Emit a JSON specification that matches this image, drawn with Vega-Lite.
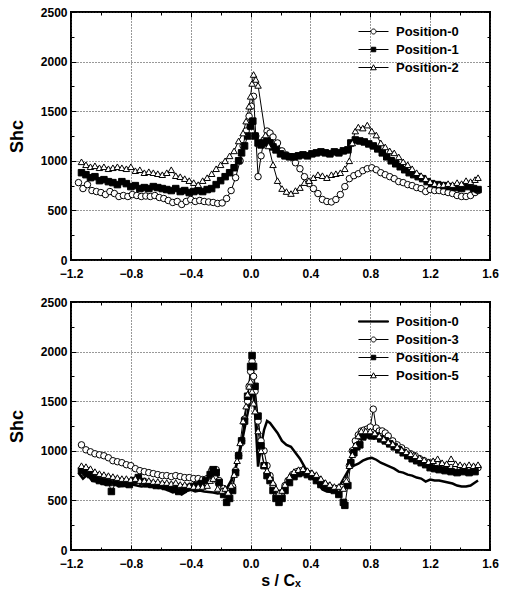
{
"$schema": "https://vega.github.io/schema/vega-lite/v6.json",
"padding": {"left": 7, "top": 5, "right": 5, "bottom": 5},
"spacing": 13,
"config": {
  "font": "Liberation Sans",
  "view": {"stroke": "black", "strokeWidth": 2},
  "axis": {"labelFont": "Liberation Sans", "labelFontWeight": "bold", "labelFontSize": 12, "labelColor": "black", "tickColor": "black", "tickWidth": 1, "titleFont": "Liberation Sans", "titleFontWeight": "bold", "titleColor": "black", "domain": false, "labelFlush": false, "labelOverlap": false, "labelBound": false},
  "legend": {"title": null, "orient": "none", "legendX": 296, "legendY": 13, "padding": 0, "labelFont": "Liberation Sans", "labelFontSize": 13, "labelFontWeight": "bold", "labelColor": "black", "labelOffset": 16, "rowPadding": 4, "symbolStrokeWidth": 1}
},
"datasets": {
"top": [
{"s":-1.15,"v":780,"p":"Position-0"},{"s":-1.12,"v":720,"p":"Position-0"},{"s":-1.09,"v":760,"p":"Position-0"},{"s":-1.06,"v":700,"p":"Position-0"},{"s":-1.03,"v":690,"p":"Position-0"},{"s":-1.0,"v":680,"p":"Position-0"},{"s":-0.97,"v":660,"p":"Position-0"},{"s":-0.94,"v":690,"p":"Position-0"},{"s":-0.91,"v":670,"p":"Position-0"},{"s":-0.88,"v":640,"p":"Position-0"},{"s":-0.85,"v":650,"p":"Position-0"},{"s":-0.82,"v":640,"p":"Position-0"},{"s":-0.79,"v":660,"p":"Position-0"},{"s":-0.76,"v":650,"p":"Position-0"},{"s":-0.73,"v":640,"p":"Position-0"},{"s":-0.7,"v":645,"p":"Position-0"},{"s":-0.67,"v":640,"p":"Position-0"},{"s":-0.64,"v":650,"p":"Position-0"},{"s":-0.61,"v":630,"p":"Position-0"},{"s":-0.58,"v":620,"p":"Position-0"},{"s":-0.55,"v":600,"p":"Position-0"},{"s":-0.52,"v":580,"p":"Position-0"},{"s":-0.49,"v":590,"p":"Position-0"},{"s":-0.46,"v":560,"p":"Position-0"},{"s":-0.43,"v":590,"p":"Position-0"},{"s":-0.4,"v":610,"p":"Position-0"},{"s":-0.37,"v":590,"p":"Position-0"},{"s":-0.34,"v":600,"p":"Position-0"},{"s":-0.31,"v":590,"p":"Position-0"},{"s":-0.28,"v":585,"p":"Position-0"},{"s":-0.25,"v":580,"p":"Position-0"},{"s":-0.22,"v":570,"p":"Position-0"},{"s":-0.19,"v":575,"p":"Position-0"},{"s":-0.16,"v":620,"p":"Position-0"},{"s":-0.13,"v":700,"p":"Position-0"},{"s":-0.1,"v":830,"p":"Position-0"},{"s":-0.07,"v":1000,"p":"Position-0"},{"s":-0.05,"v":1150,"p":"Position-0"},{"s":-0.03,"v":1300,"p":"Position-0"},{"s":-0.01,"v":1450,"p":"Position-0"},{"s":0.005,"v":1550,"p":"Position-0"},{"s":0.02,"v":1650,"p":"Position-0"},{"s":0.035,"v":1250,"p":"Position-0"},{"s":0.05,"v":840,"p":"Position-0"},{"s":0.07,"v":1050,"p":"Position-0"},{"s":0.09,"v":1210,"p":"Position-0"},{"s":0.11,"v":1300,"p":"Position-0"},{"s":0.13,"v":1280,"p":"Position-0"},{"s":0.15,"v":1240,"p":"Position-0"},{"s":0.18,"v":1180,"p":"Position-0"},{"s":0.21,"v":1100,"p":"Position-0"},{"s":0.24,"v":1060,"p":"Position-0"},{"s":0.27,"v":1040,"p":"Position-0"},{"s":0.3,"v":980,"p":"Position-0"},{"s":0.33,"v":920,"p":"Position-0"},{"s":0.36,"v":840,"p":"Position-0"},{"s":0.39,"v":770,"p":"Position-0"},{"s":0.42,"v":720,"p":"Position-0"},{"s":0.45,"v":670,"p":"Position-0"},{"s":0.48,"v":610,"p":"Position-0"},{"s":0.51,"v":590,"p":"Position-0"},{"s":0.54,"v":585,"p":"Position-0"},{"s":0.57,"v":610,"p":"Position-0"},{"s":0.6,"v":660,"p":"Position-0"},{"s":0.63,"v":740,"p":"Position-0"},{"s":0.66,"v":820,"p":"Position-0"},{"s":0.69,"v":850,"p":"Position-0"},{"s":0.72,"v":870,"p":"Position-0"},{"s":0.75,"v":900,"p":"Position-0"},{"s":0.78,"v":920,"p":"Position-0"},{"s":0.81,"v":930,"p":"Position-0"},{"s":0.84,"v":910,"p":"Position-0"},{"s":0.87,"v":880,"p":"Position-0"},{"s":0.9,"v":860,"p":"Position-0"},{"s":0.93,"v":840,"p":"Position-0"},{"s":0.96,"v":820,"p":"Position-0"},{"s":0.99,"v":790,"p":"Position-0"},{"s":1.02,"v":780,"p":"Position-0"},{"s":1.05,"v":760,"p":"Position-0"},{"s":1.08,"v":750,"p":"Position-0"},{"s":1.11,"v":730,"p":"Position-0"},{"s":1.14,"v":720,"p":"Position-0"},{"s":1.17,"v":690,"p":"Position-0"},{"s":1.2,"v":710,"p":"Position-0"},{"s":1.23,"v":700,"p":"Position-0"},{"s":1.26,"v":700,"p":"Position-0"},{"s":1.29,"v":690,"p":"Position-0"},{"s":1.32,"v":680,"p":"Position-0"},{"s":1.35,"v":670,"p":"Position-0"},{"s":1.38,"v":650,"p":"Position-0"},{"s":1.41,"v":640,"p":"Position-0"},{"s":1.44,"v":640,"p":"Position-0"},{"s":1.47,"v":650,"p":"Position-0"},{"s":1.5,"v":680,"p":"Position-0"},{"s":1.52,"v":700,"p":"Position-0"},
{"s":-1.13,"v":880,"p":"Position-1"},{"s":-1.1,"v":860,"p":"Position-1"},{"s":-1.07,"v":830,"p":"Position-1"},{"s":-1.04,"v":840,"p":"Position-1"},{"s":-1.01,"v":800,"p":"Position-1"},{"s":-0.98,"v":810,"p":"Position-1"},{"s":-0.95,"v":790,"p":"Position-1"},{"s":-0.92,"v":780,"p":"Position-1"},{"s":-0.89,"v":760,"p":"Position-1"},{"s":-0.86,"v":790,"p":"Position-1"},{"s":-0.83,"v":770,"p":"Position-1"},{"s":-0.8,"v":740,"p":"Position-1"},{"s":-0.77,"v":750,"p":"Position-1"},{"s":-0.74,"v":720,"p":"Position-1"},{"s":-0.71,"v":730,"p":"Position-1"},{"s":-0.68,"v":720,"p":"Position-1"},{"s":-0.65,"v":740,"p":"Position-1"},{"s":-0.62,"v":730,"p":"Position-1"},{"s":-0.59,"v":720,"p":"Position-1"},{"s":-0.56,"v":710,"p":"Position-1"},{"s":-0.53,"v":700,"p":"Position-1"},{"s":-0.5,"v":720,"p":"Position-1"},{"s":-0.47,"v":690,"p":"Position-1"},{"s":-0.44,"v":700,"p":"Position-1"},{"s":-0.41,"v":680,"p":"Position-1"},{"s":-0.38,"v":690,"p":"Position-1"},{"s":-0.35,"v":700,"p":"Position-1"},{"s":-0.32,"v":690,"p":"Position-1"},{"s":-0.29,"v":710,"p":"Position-1"},{"s":-0.26,"v":720,"p":"Position-1"},{"s":-0.23,"v":760,"p":"Position-1"},{"s":-0.2,"v":800,"p":"Position-1"},{"s":-0.17,"v":840,"p":"Position-1"},{"s":-0.14,"v":880,"p":"Position-1"},{"s":-0.11,"v":930,"p":"Position-1"},{"s":-0.08,"v":1000,"p":"Position-1"},{"s":-0.06,"v":1080,"p":"Position-1"},{"s":-0.04,"v":1150,"p":"Position-1"},{"s":-0.02,"v":1250,"p":"Position-1"},{"s":0.0,"v":1350,"p":"Position-1"},{"s":0.015,"v":1400,"p":"Position-1"},{"s":0.03,"v":1250,"p":"Position-1"},{"s":0.05,"v":1180,"p":"Position-1"},{"s":0.07,"v":1160,"p":"Position-1"},{"s":0.09,"v":1180,"p":"Position-1"},{"s":0.11,"v":1200,"p":"Position-1"},{"s":0.13,"v":1180,"p":"Position-1"},{"s":0.15,"v":1140,"p":"Position-1"},{"s":0.17,"v":1110,"p":"Position-1"},{"s":0.2,"v":1070,"p":"Position-1"},{"s":0.23,"v":1050,"p":"Position-1"},{"s":0.26,"v":1040,"p":"Position-1"},{"s":0.29,"v":1040,"p":"Position-1"},{"s":0.32,"v":1050,"p":"Position-1"},{"s":0.35,"v":1060,"p":"Position-1"},{"s":0.38,"v":1050,"p":"Position-1"},{"s":0.41,"v":1070,"p":"Position-1"},{"s":0.44,"v":1080,"p":"Position-1"},{"s":0.47,"v":1090,"p":"Position-1"},{"s":0.5,"v":1080,"p":"Position-1"},{"s":0.53,"v":1070,"p":"Position-1"},{"s":0.56,"v":1090,"p":"Position-1"},{"s":0.59,"v":1080,"p":"Position-1"},{"s":0.62,"v":1100,"p":"Position-1"},{"s":0.65,"v":1110,"p":"Position-1"},{"s":0.67,"v":1180,"p":"Position-1"},{"s":0.7,"v":1210,"p":"Position-1"},{"s":0.73,"v":1200,"p":"Position-1"},{"s":0.76,"v":1190,"p":"Position-1"},{"s":0.79,"v":1170,"p":"Position-1"},{"s":0.82,"v":1150,"p":"Position-1"},{"s":0.85,"v":1120,"p":"Position-1"},{"s":0.88,"v":1080,"p":"Position-1"},{"s":0.91,"v":1040,"p":"Position-1"},{"s":0.94,"v":1000,"p":"Position-1"},{"s":0.97,"v":970,"p":"Position-1"},{"s":1.0,"v":940,"p":"Position-1"},{"s":1.03,"v":910,"p":"Position-1"},{"s":1.06,"v":880,"p":"Position-1"},{"s":1.09,"v":860,"p":"Position-1"},{"s":1.12,"v":840,"p":"Position-1"},{"s":1.15,"v":820,"p":"Position-1"},{"s":1.18,"v":790,"p":"Position-1"},{"s":1.21,"v":770,"p":"Position-1"},{"s":1.25,"v":760,"p":"Position-1"},{"s":1.29,"v":750,"p":"Position-1"},{"s":1.33,"v":740,"p":"Position-1"},{"s":1.37,"v":730,"p":"Position-1"},{"s":1.41,"v":720,"p":"Position-1"},{"s":1.45,"v":740,"p":"Position-1"},{"s":1.49,"v":720,"p":"Position-1"},{"s":1.52,"v":710,"p":"Position-1"},
{"s":-1.13,"v":990,"p":"Position-2"},{"s":-1.1,"v":960,"p":"Position-2"},{"s":-1.07,"v":940,"p":"Position-2"},{"s":-1.04,"v":950,"p":"Position-2"},{"s":-1.01,"v":930,"p":"Position-2"},{"s":-0.98,"v":940,"p":"Position-2"},{"s":-0.95,"v":920,"p":"Position-2"},{"s":-0.92,"v":930,"p":"Position-2"},{"s":-0.89,"v":940,"p":"Position-2"},{"s":-0.86,"v":930,"p":"Position-2"},{"s":-0.83,"v":920,"p":"Position-2"},{"s":-0.8,"v":940,"p":"Position-2"},{"s":-0.77,"v":900,"p":"Position-2"},{"s":-0.74,"v":910,"p":"Position-2"},{"s":-0.71,"v":880,"p":"Position-2"},{"s":-0.68,"v":890,"p":"Position-2"},{"s":-0.65,"v":880,"p":"Position-2"},{"s":-0.62,"v":870,"p":"Position-2"},{"s":-0.59,"v":860,"p":"Position-2"},{"s":-0.56,"v":880,"p":"Position-2"},{"s":-0.53,"v":910,"p":"Position-2"},{"s":-0.5,"v":850,"p":"Position-2"},{"s":-0.47,"v":840,"p":"Position-2"},{"s":-0.44,"v":820,"p":"Position-2"},{"s":-0.41,"v":800,"p":"Position-2"},{"s":-0.38,"v":780,"p":"Position-2"},{"s":-0.35,"v":760,"p":"Position-2"},{"s":-0.32,"v":800,"p":"Position-2"},{"s":-0.29,"v":830,"p":"Position-2"},{"s":-0.26,"v":870,"p":"Position-2"},{"s":-0.23,"v":920,"p":"Position-2"},{"s":-0.2,"v":960,"p":"Position-2"},{"s":-0.17,"v":1000,"p":"Position-2"},{"s":-0.14,"v":1050,"p":"Position-2"},{"s":-0.11,"v":1100,"p":"Position-2"},{"s":-0.08,"v":1200,"p":"Position-2"},{"s":-0.05,"v":1280,"p":"Position-2"},{"s":-0.03,"v":1400,"p":"Position-2"},{"s":-0.01,"v":1550,"p":"Position-2"},{"s":0.0,"v":1650,"p":"Position-2"},{"s":0.01,"v":1780,"p":"Position-2"},{"s":0.02,"v":1870,"p":"Position-2"},{"s":0.035,"v":1820,"p":"Position-2"},{"s":0.05,"v":1760,"p":"Position-2"},{"s":0.1,"v":1260,"p":"Position-2"},{"s":0.12,"v":1150,"p":"Position-2"},{"s":0.15,"v":960,"p":"Position-2"},{"s":0.18,"v":800,"p":"Position-2"},{"s":0.21,"v":720,"p":"Position-2"},{"s":0.24,"v":690,"p":"Position-2"},{"s":0.27,"v":670,"p":"Position-2"},{"s":0.3,"v":700,"p":"Position-2"},{"s":0.33,"v":730,"p":"Position-2"},{"s":0.36,"v":780,"p":"Position-2"},{"s":0.39,"v":800,"p":"Position-2"},{"s":0.42,"v":830,"p":"Position-2"},{"s":0.45,"v":860,"p":"Position-2"},{"s":0.48,"v":850,"p":"Position-2"},{"s":0.51,"v":830,"p":"Position-2"},{"s":0.54,"v":860,"p":"Position-2"},{"s":0.57,"v":870,"p":"Position-2"},{"s":0.6,"v":880,"p":"Position-2"},{"s":0.63,"v":920,"p":"Position-2"},{"s":0.66,"v":1000,"p":"Position-2"},{"s":0.68,"v":1180,"p":"Position-2"},{"s":0.7,"v":1300,"p":"Position-2"},{"s":0.72,"v":1340,"p":"Position-2"},{"s":0.75,"v":1330,"p":"Position-2"},{"s":0.78,"v":1360,"p":"Position-2"},{"s":0.81,"v":1300,"p":"Position-2"},{"s":0.84,"v":1260,"p":"Position-2"},{"s":0.87,"v":1180,"p":"Position-2"},{"s":0.9,"v":1140,"p":"Position-2"},{"s":0.93,"v":1100,"p":"Position-2"},{"s":0.96,"v":1080,"p":"Position-2"},{"s":0.99,"v":1040,"p":"Position-2"},{"s":1.02,"v":990,"p":"Position-2"},{"s":1.05,"v":960,"p":"Position-2"},{"s":1.08,"v":920,"p":"Position-2"},{"s":1.11,"v":880,"p":"Position-2"},{"s":1.14,"v":850,"p":"Position-2"},{"s":1.17,"v":820,"p":"Position-2"},{"s":1.2,"v":790,"p":"Position-2"},{"s":1.23,"v":770,"p":"Position-2"},{"s":1.26,"v":760,"p":"Position-2"},{"s":1.29,"v":760,"p":"Position-2"},{"s":1.32,"v":770,"p":"Position-2"},{"s":1.35,"v":760,"p":"Position-2"},{"s":1.38,"v":780,"p":"Position-2"},{"s":1.41,"v":770,"p":"Position-2"},{"s":1.44,"v":800,"p":"Position-2"},{"s":1.47,"v":790,"p":"Position-2"},{"s":1.5,"v":810,"p":"Position-2"},{"s":1.52,"v":830,"p":"Position-2"}
],
"bot": [
{"s":-1.15,"v":780,"p":"Position-0"},{"s":-1.12,"v":720,"p":"Position-0"},{"s":-1.09,"v":760,"p":"Position-0"},{"s":-1.06,"v":700,"p":"Position-0"},{"s":-1.03,"v":690,"p":"Position-0"},{"s":-1.0,"v":680,"p":"Position-0"},{"s":-0.97,"v":660,"p":"Position-0"},{"s":-0.94,"v":690,"p":"Position-0"},{"s":-0.91,"v":670,"p":"Position-0"},{"s":-0.88,"v":640,"p":"Position-0"},{"s":-0.85,"v":650,"p":"Position-0"},{"s":-0.82,"v":640,"p":"Position-0"},{"s":-0.79,"v":660,"p":"Position-0"},{"s":-0.76,"v":650,"p":"Position-0"},{"s":-0.73,"v":640,"p":"Position-0"},{"s":-0.7,"v":645,"p":"Position-0"},{"s":-0.67,"v":640,"p":"Position-0"},{"s":-0.64,"v":650,"p":"Position-0"},{"s":-0.61,"v":630,"p":"Position-0"},{"s":-0.58,"v":620,"p":"Position-0"},{"s":-0.55,"v":600,"p":"Position-0"},{"s":-0.52,"v":580,"p":"Position-0"},{"s":-0.49,"v":590,"p":"Position-0"},{"s":-0.46,"v":560,"p":"Position-0"},{"s":-0.43,"v":590,"p":"Position-0"},{"s":-0.4,"v":610,"p":"Position-0"},{"s":-0.37,"v":590,"p":"Position-0"},{"s":-0.34,"v":600,"p":"Position-0"},{"s":-0.31,"v":590,"p":"Position-0"},{"s":-0.28,"v":585,"p":"Position-0"},{"s":-0.25,"v":580,"p":"Position-0"},{"s":-0.22,"v":570,"p":"Position-0"},{"s":-0.19,"v":575,"p":"Position-0"},{"s":-0.16,"v":620,"p":"Position-0"},{"s":-0.13,"v":700,"p":"Position-0"},{"s":-0.1,"v":830,"p":"Position-0"},{"s":-0.07,"v":1000,"p":"Position-0"},{"s":-0.05,"v":1150,"p":"Position-0"},{"s":-0.03,"v":1300,"p":"Position-0"},{"s":-0.01,"v":1450,"p":"Position-0"},{"s":0.005,"v":1550,"p":"Position-0"},{"s":0.02,"v":1650,"p":"Position-0"},{"s":0.035,"v":1250,"p":"Position-0"},{"s":0.05,"v":840,"p":"Position-0"},{"s":0.07,"v":1050,"p":"Position-0"},{"s":0.09,"v":1210,"p":"Position-0"},{"s":0.11,"v":1300,"p":"Position-0"},{"s":0.13,"v":1280,"p":"Position-0"},{"s":0.15,"v":1240,"p":"Position-0"},{"s":0.18,"v":1180,"p":"Position-0"},{"s":0.21,"v":1100,"p":"Position-0"},{"s":0.24,"v":1060,"p":"Position-0"},{"s":0.27,"v":1040,"p":"Position-0"},{"s":0.3,"v":980,"p":"Position-0"},{"s":0.33,"v":920,"p":"Position-0"},{"s":0.36,"v":840,"p":"Position-0"},{"s":0.39,"v":770,"p":"Position-0"},{"s":0.42,"v":720,"p":"Position-0"},{"s":0.45,"v":670,"p":"Position-0"},{"s":0.48,"v":610,"p":"Position-0"},{"s":0.51,"v":590,"p":"Position-0"},{"s":0.54,"v":585,"p":"Position-0"},{"s":0.57,"v":610,"p":"Position-0"},{"s":0.6,"v":660,"p":"Position-0"},{"s":0.63,"v":740,"p":"Position-0"},{"s":0.66,"v":820,"p":"Position-0"},{"s":0.69,"v":850,"p":"Position-0"},{"s":0.72,"v":870,"p":"Position-0"},{"s":0.75,"v":900,"p":"Position-0"},{"s":0.78,"v":920,"p":"Position-0"},{"s":0.81,"v":930,"p":"Position-0"},{"s":0.84,"v":910,"p":"Position-0"},{"s":0.87,"v":880,"p":"Position-0"},{"s":0.9,"v":860,"p":"Position-0"},{"s":0.93,"v":840,"p":"Position-0"},{"s":0.96,"v":820,"p":"Position-0"},{"s":0.99,"v":790,"p":"Position-0"},{"s":1.02,"v":780,"p":"Position-0"},{"s":1.05,"v":760,"p":"Position-0"},{"s":1.08,"v":750,"p":"Position-0"},{"s":1.11,"v":730,"p":"Position-0"},{"s":1.14,"v":720,"p":"Position-0"},{"s":1.17,"v":690,"p":"Position-0"},{"s":1.2,"v":710,"p":"Position-0"},{"s":1.23,"v":700,"p":"Position-0"},{"s":1.26,"v":700,"p":"Position-0"},{"s":1.29,"v":690,"p":"Position-0"},{"s":1.32,"v":680,"p":"Position-0"},{"s":1.35,"v":670,"p":"Position-0"},{"s":1.38,"v":650,"p":"Position-0"},{"s":1.41,"v":640,"p":"Position-0"},{"s":1.44,"v":640,"p":"Position-0"},{"s":1.47,"v":650,"p":"Position-0"},{"s":1.5,"v":680,"p":"Position-0"},{"s":1.52,"v":700,"p":"Position-0"},
{"s":-1.13,"v":1060,"p":"Position-3"},{"s":-1.1,"v":1010,"p":"Position-3"},{"s":-1.07,"v":990,"p":"Position-3"},{"s":-1.04,"v":970,"p":"Position-3"},{"s":-1.01,"v":960,"p":"Position-3"},{"s":-0.98,"v":950,"p":"Position-3"},{"s":-0.95,"v":930,"p":"Position-3"},{"s":-0.92,"v":900,"p":"Position-3"},{"s":-0.89,"v":890,"p":"Position-3"},{"s":-0.86,"v":880,"p":"Position-3"},{"s":-0.83,"v":860,"p":"Position-3"},{"s":-0.8,"v":850,"p":"Position-3"},{"s":-0.77,"v":820,"p":"Position-3"},{"s":-0.74,"v":800,"p":"Position-3"},{"s":-0.71,"v":790,"p":"Position-3"},{"s":-0.68,"v":780,"p":"Position-3"},{"s":-0.65,"v":770,"p":"Position-3"},{"s":-0.62,"v":760,"p":"Position-3"},{"s":-0.59,"v":750,"p":"Position-3"},{"s":-0.56,"v":750,"p":"Position-3"},{"s":-0.53,"v":740,"p":"Position-3"},{"s":-0.5,"v":750,"p":"Position-3"},{"s":-0.47,"v":740,"p":"Position-3"},{"s":-0.44,"v":730,"p":"Position-3"},{"s":-0.41,"v":730,"p":"Position-3"},{"s":-0.38,"v":720,"p":"Position-3"},{"s":-0.35,"v":720,"p":"Position-3"},{"s":-0.32,"v":710,"p":"Position-3"},{"s":-0.29,"v":720,"p":"Position-3"},{"s":-0.26,"v":800,"p":"Position-3"},{"s":-0.23,"v":810,"p":"Position-3"},{"s":-0.21,"v":700,"p":"Position-3"},{"s":-0.18,"v":620,"p":"Position-3"},{"s":-0.15,"v":560,"p":"Position-3"},{"s":-0.12,"v":640,"p":"Position-3"},{"s":-0.1,"v":800,"p":"Position-3"},{"s":-0.08,"v":950,"p":"Position-3"},{"s":-0.06,"v":1100,"p":"Position-3"},{"s":-0.04,"v":1320,"p":"Position-3"},{"s":-0.02,"v":1500,"p":"Position-3"},{"s":-0.01,"v":1650,"p":"Position-3"},{"s":0.0,"v":1800,"p":"Position-3"},{"s":0.01,"v":1900,"p":"Position-3"},{"s":0.02,"v":1750,"p":"Position-3"},{"s":0.03,"v":1600,"p":"Position-3"},{"s":0.05,"v":1300,"p":"Position-3"},{"s":0.07,"v":1100,"p":"Position-3"},{"s":0.09,"v":1000,"p":"Position-3"},{"s":0.11,"v":850,"p":"Position-3"},{"s":0.13,"v":750,"p":"Position-3"},{"s":0.15,"v":650,"p":"Position-3"},{"s":0.17,"v":580,"p":"Position-3"},{"s":0.19,"v":550,"p":"Position-3"},{"s":0.21,"v":580,"p":"Position-3"},{"s":0.23,"v":650,"p":"Position-3"},{"s":0.25,"v":700,"p":"Position-3"},{"s":0.28,"v":760,"p":"Position-3"},{"s":0.31,"v":790,"p":"Position-3"},{"s":0.34,"v":800,"p":"Position-3"},{"s":0.37,"v":790,"p":"Position-3"},{"s":0.4,"v":770,"p":"Position-3"},{"s":0.43,"v":740,"p":"Position-3"},{"s":0.46,"v":700,"p":"Position-3"},{"s":0.49,"v":670,"p":"Position-3"},{"s":0.52,"v":640,"p":"Position-3"},{"s":0.55,"v":620,"p":"Position-3"},{"s":0.58,"v":620,"p":"Position-3"},{"s":0.61,"v":630,"p":"Position-3"},{"s":0.64,"v":700,"p":"Position-3"},{"s":0.66,"v":850,"p":"Position-3"},{"s":0.68,"v":1000,"p":"Position-3"},{"s":0.7,"v":1100,"p":"Position-3"},{"s":0.72,"v":1160,"p":"Position-3"},{"s":0.74,"v":1200,"p":"Position-3"},{"s":0.76,"v":1210,"p":"Position-3"},{"s":0.78,"v":1220,"p":"Position-3"},{"s":0.8,"v":1240,"p":"Position-3"},{"s":0.82,"v":1420,"p":"Position-3"},{"s":0.84,"v":1230,"p":"Position-3"},{"s":0.86,"v":1200,"p":"Position-3"},{"s":0.88,"v":1200,"p":"Position-3"},{"s":0.9,"v":1180,"p":"Position-3"},{"s":0.92,"v":1150,"p":"Position-3"},{"s":0.95,"v":1100,"p":"Position-3"},{"s":0.98,"v":1060,"p":"Position-3"},{"s":1.01,"v":1030,"p":"Position-3"},{"s":1.04,"v":1000,"p":"Position-3"},{"s":1.07,"v":970,"p":"Position-3"},{"s":1.1,"v":950,"p":"Position-3"},{"s":1.13,"v":920,"p":"Position-3"},{"s":1.16,"v":900,"p":"Position-3"},{"s":1.19,"v":880,"p":"Position-3"},{"s":1.22,"v":880,"p":"Position-3"},{"s":1.25,"v":860,"p":"Position-3"},{"s":1.28,"v":850,"p":"Position-3"},{"s":1.31,"v":840,"p":"Position-3"},{"s":1.34,"v":830,"p":"Position-3"},{"s":1.37,"v":820,"p":"Position-3"},{"s":1.4,"v":810,"p":"Position-3"},{"s":1.43,"v":800,"p":"Position-3"},{"s":1.46,"v":810,"p":"Position-3"},{"s":1.49,"v":820,"p":"Position-3"},{"s":1.52,"v":830,"p":"Position-3"},
{"s":-1.13,"v":800,"p":"Position-4"},{"s":-1.1,"v":780,"p":"Position-4"},{"s":-1.07,"v":760,"p":"Position-4"},{"s":-1.04,"v":720,"p":"Position-4"},{"s":-1.01,"v":700,"p":"Position-4"},{"s":-0.98,"v":690,"p":"Position-4"},{"s":-0.95,"v":680,"p":"Position-4"},{"s":-0.93,"v":590,"p":"Position-4"},{"s":-0.9,"v":680,"p":"Position-4"},{"s":-0.87,"v":670,"p":"Position-4"},{"s":-0.84,"v":670,"p":"Position-4"},{"s":-0.81,"v":660,"p":"Position-4"},{"s":-0.78,"v":700,"p":"Position-4"},{"s":-0.75,"v":730,"p":"Position-4"},{"s":-0.72,"v":690,"p":"Position-4"},{"s":-0.69,"v":670,"p":"Position-4"},{"s":-0.66,"v":660,"p":"Position-4"},{"s":-0.63,"v":650,"p":"Position-4"},{"s":-0.6,"v":650,"p":"Position-4"},{"s":-0.57,"v":640,"p":"Position-4"},{"s":-0.54,"v":630,"p":"Position-4"},{"s":-0.51,"v":620,"p":"Position-4"},{"s":-0.48,"v":590,"p":"Position-4"},{"s":-0.45,"v":610,"p":"Position-4"},{"s":-0.42,"v":630,"p":"Position-4"},{"s":-0.39,"v":640,"p":"Position-4"},{"s":-0.36,"v":650,"p":"Position-4"},{"s":-0.33,"v":670,"p":"Position-4"},{"s":-0.3,"v":700,"p":"Position-4"},{"s":-0.27,"v":760,"p":"Position-4"},{"s":-0.25,"v":810,"p":"Position-4"},{"s":-0.23,"v":780,"p":"Position-4"},{"s":-0.21,"v":680,"p":"Position-4"},{"s":-0.18,"v":560,"p":"Position-4"},{"s":-0.16,"v":480,"p":"Position-4"},{"s":-0.14,"v":520,"p":"Position-4"},{"s":-0.12,"v":600,"p":"Position-4"},{"s":-0.1,"v":780,"p":"Position-4"},{"s":-0.08,"v":950,"p":"Position-4"},{"s":-0.06,"v":1100,"p":"Position-4"},{"s":-0.04,"v":1300,"p":"Position-4"},{"s":-0.02,"v":1550,"p":"Position-4"},{"s":0.0,"v":1850,"p":"Position-4"},{"s":0.01,"v":1960,"p":"Position-4"},{"s":0.02,"v":1850,"p":"Position-4"},{"s":0.03,"v":1650,"p":"Position-4"},{"s":0.05,"v":1350,"p":"Position-4"},{"s":0.07,"v":1050,"p":"Position-4"},{"s":0.09,"v":850,"p":"Position-4"},{"s":0.11,"v":750,"p":"Position-4"},{"s":0.13,"v":700,"p":"Position-4"},{"s":0.15,"v":600,"p":"Position-4"},{"s":0.17,"v":520,"p":"Position-4"},{"s":0.19,"v":480,"p":"Position-4"},{"s":0.21,"v":520,"p":"Position-4"},{"s":0.23,"v":600,"p":"Position-4"},{"s":0.26,"v":680,"p":"Position-4"},{"s":0.29,"v":740,"p":"Position-4"},{"s":0.32,"v":770,"p":"Position-4"},{"s":0.35,"v":780,"p":"Position-4"},{"s":0.38,"v":760,"p":"Position-4"},{"s":0.41,"v":740,"p":"Position-4"},{"s":0.44,"v":700,"p":"Position-4"},{"s":0.47,"v":660,"p":"Position-4"},{"s":0.5,"v":640,"p":"Position-4"},{"s":0.53,"v":620,"p":"Position-4"},{"s":0.56,"v":600,"p":"Position-4"},{"s":0.59,"v":560,"p":"Position-4"},{"s":0.62,"v":480,"p":"Position-4"},{"s":0.63,"v":450,"p":"Position-4"},{"s":0.65,"v":650,"p":"Position-4"},{"s":0.67,"v":880,"p":"Position-4"},{"s":0.69,"v":980,"p":"Position-4"},{"s":0.71,"v":1040,"p":"Position-4"},{"s":0.73,"v":1060,"p":"Position-4"},{"s":0.75,"v":1140,"p":"Position-4"},{"s":0.78,"v":1160,"p":"Position-4"},{"s":0.81,"v":1150,"p":"Position-4"},{"s":0.84,"v":1150,"p":"Position-4"},{"s":0.87,"v":1120,"p":"Position-4"},{"s":0.9,"v":1100,"p":"Position-4"},{"s":0.93,"v":1070,"p":"Position-4"},{"s":0.96,"v":1040,"p":"Position-4"},{"s":0.99,"v":1010,"p":"Position-4"},{"s":1.02,"v":980,"p":"Position-4"},{"s":1.05,"v":950,"p":"Position-4"},{"s":1.08,"v":920,"p":"Position-4"},{"s":1.11,"v":900,"p":"Position-4"},{"s":1.14,"v":880,"p":"Position-4"},{"s":1.17,"v":860,"p":"Position-4"},{"s":1.2,"v":830,"p":"Position-4"},{"s":1.23,"v":820,"p":"Position-4"},{"s":1.26,"v":810,"p":"Position-4"},{"s":1.3,"v":800,"p":"Position-4"},{"s":1.34,"v":790,"p":"Position-4"},{"s":1.38,"v":780,"p":"Position-4"},{"s":1.42,"v":790,"p":"Position-4"},{"s":1.46,"v":780,"p":"Position-4"},{"s":1.5,"v":790,"p":"Position-4"},
{"s":-1.13,"v":850,"p":"Position-5"},{"s":-1.1,"v":840,"p":"Position-5"},{"s":-1.07,"v":820,"p":"Position-5"},{"s":-1.04,"v":790,"p":"Position-5"},{"s":-1.01,"v":770,"p":"Position-5"},{"s":-0.98,"v":760,"p":"Position-5"},{"s":-0.95,"v":750,"p":"Position-5"},{"s":-0.92,"v":740,"p":"Position-5"},{"s":-0.89,"v":730,"p":"Position-5"},{"s":-0.86,"v":720,"p":"Position-5"},{"s":-0.83,"v":720,"p":"Position-5"},{"s":-0.8,"v":710,"p":"Position-5"},{"s":-0.77,"v":720,"p":"Position-5"},{"s":-0.74,"v":700,"p":"Position-5"},{"s":-0.71,"v":700,"p":"Position-5"},{"s":-0.68,"v":700,"p":"Position-5"},{"s":-0.65,"v":690,"p":"Position-5"},{"s":-0.62,"v":690,"p":"Position-5"},{"s":-0.59,"v":680,"p":"Position-5"},{"s":-0.56,"v":680,"p":"Position-5"},{"s":-0.53,"v":670,"p":"Position-5"},{"s":-0.5,"v":680,"p":"Position-5"},{"s":-0.47,"v":660,"p":"Position-5"},{"s":-0.44,"v":660,"p":"Position-5"},{"s":-0.41,"v":650,"p":"Position-5"},{"s":-0.38,"v":640,"p":"Position-5"},{"s":-0.35,"v":640,"p":"Position-5"},{"s":-0.32,"v":640,"p":"Position-5"},{"s":-0.29,"v":650,"p":"Position-5"},{"s":-0.27,"v":700,"p":"Position-5"},{"s":-0.25,"v":720,"p":"Position-5"},{"s":-0.22,"v":620,"p":"Position-5"},{"s":-0.19,"v":600,"p":"Position-5"},{"s":-0.17,"v":620,"p":"Position-5"},{"s":-0.15,"v":580,"p":"Position-5"},{"s":-0.13,"v":650,"p":"Position-5"},{"s":-0.11,"v":760,"p":"Position-5"},{"s":-0.09,"v":900,"p":"Position-5"},{"s":-0.07,"v":1080,"p":"Position-5"},{"s":-0.05,"v":1300,"p":"Position-5"},{"s":-0.03,"v":1450,"p":"Position-5"},{"s":-0.02,"v":1570,"p":"Position-5"},{"s":-0.01,"v":1650,"p":"Position-5"},{"s":0.0,"v":1700,"p":"Position-5"},{"s":0.01,"v":1600,"p":"Position-5"},{"s":0.02,"v":1480,"p":"Position-5"},{"s":0.03,"v":1400,"p":"Position-5"},{"s":0.05,"v":1200,"p":"Position-5"},{"s":0.07,"v":1000,"p":"Position-5"},{"s":0.09,"v":860,"p":"Position-5"},{"s":0.11,"v":800,"p":"Position-5"},{"s":0.13,"v":730,"p":"Position-5"},{"s":0.15,"v":680,"p":"Position-5"},{"s":0.17,"v":620,"p":"Position-5"},{"s":0.19,"v":580,"p":"Position-5"},{"s":0.21,"v":600,"p":"Position-5"},{"s":0.23,"v":660,"p":"Position-5"},{"s":0.26,"v":740,"p":"Position-5"},{"s":0.29,"v":790,"p":"Position-5"},{"s":0.32,"v":810,"p":"Position-5"},{"s":0.35,"v":820,"p":"Position-5"},{"s":0.38,"v":800,"p":"Position-5"},{"s":0.41,"v":780,"p":"Position-5"},{"s":0.44,"v":760,"p":"Position-5"},{"s":0.47,"v":720,"p":"Position-5"},{"s":0.5,"v":680,"p":"Position-5"},{"s":0.53,"v":660,"p":"Position-5"},{"s":0.56,"v":640,"p":"Position-5"},{"s":0.59,"v":640,"p":"Position-5"},{"s":0.62,"v":620,"p":"Position-5"},{"s":0.64,"v":700,"p":"Position-5"},{"s":0.66,"v":850,"p":"Position-5"},{"s":0.68,"v":960,"p":"Position-5"},{"s":0.7,"v":1060,"p":"Position-5"},{"s":0.72,"v":1150,"p":"Position-5"},{"s":0.74,"v":1200,"p":"Position-5"},{"s":0.77,"v":1200,"p":"Position-5"},{"s":0.8,"v":1200,"p":"Position-5"},{"s":0.83,"v":1180,"p":"Position-5"},{"s":0.86,"v":1150,"p":"Position-5"},{"s":0.89,"v":1120,"p":"Position-5"},{"s":0.92,"v":1090,"p":"Position-5"},{"s":0.95,"v":1070,"p":"Position-5"},{"s":0.98,"v":1040,"p":"Position-5"},{"s":1.01,"v":1010,"p":"Position-5"},{"s":1.04,"v":990,"p":"Position-5"},{"s":1.07,"v":970,"p":"Position-5"},{"s":1.1,"v":950,"p":"Position-5"},{"s":1.13,"v":930,"p":"Position-5"},{"s":1.16,"v":910,"p":"Position-5"},{"s":1.19,"v":890,"p":"Position-5"},{"s":1.22,"v":900,"p":"Position-5"},{"s":1.25,"v":920,"p":"Position-5"},{"s":1.28,"v":880,"p":"Position-5"},{"s":1.31,"v":870,"p":"Position-5"},{"s":1.34,"v":920,"p":"Position-5"},{"s":1.37,"v":870,"p":"Position-5"},{"s":1.4,"v":860,"p":"Position-5"},{"s":1.43,"v":850,"p":"Position-5"},{"s":1.46,"v":860,"p":"Position-5"},{"s":1.49,"v":850,"p":"Position-5"},{"s":1.52,"v":860,"p":"Position-5"}
]
},
"vconcat": [
{
  "width": 419, "height": 248,
  "data": {"name": "top"},
  "resolve": {"scale": {"shape": "independent", "fill": "independent", "stroke": "independent"}, "axis": {"x": "independent", "y": "independent"}},
  "layer": [
    {"mark": {"type": "line", "color": "black", "strokeWidth": 1},
     "encoding": {
       "x": {"field": "s", "type": "quantitative", "scale": {"domain": [-1.2, 1.6], "nice": false, "zero": false},
             "axis": {"title": null, "values": [-1.2,-1.0,-0.8,-0.6,-0.4,-0.2,0,0.2,0.4,0.6,0.8,1.0,1.2,1.4,1.6],
                      "labelExpr": "round(datum.value*10) % 4 == 0 ? format(datum.value, '.1f') : ''",
                      "tickSize": {"condition": {"test": "round(datum.value*10) % 4 == 0", "value": -5}, "value": -3},
                      "grid": true, "gridDash": [1, 2], "gridColor": "#333", "gridWidth": 1,
                      "gridOpacity": {"condition": {"test": "round(datum.value*10) % 4 == 0", "value": 1}, "value": 0},
                      "labelPadding": 13}},
       "y": {"field": "v", "type": "quantitative", "scale": {"domain": [0, 2500], "nice": false},
             "axis": {"title": "Shᴄ", "titleFontSize": 18, "titlePadding": 14, "values": [0,250,500,750,1000,1250,1500,1750,2000,2250,2500],
                      "labelExpr": "datum.value % 500 == 0 ? format(datum.value, 'd') : ''",
                      "tickSize": {"condition": {"test": "datum.value % 500 == 0", "value": -5}, "value": -3},
                      "grid": true, "gridDash": [1, 2], "gridColor": "#333", "gridWidth": 1,
                      "gridOpacity": {"condition": {"test": "datum.value % 500 == 0", "value": 1}, "value": 0},
                      "labelPadding": 9}},
       "detail": {"field": "p"}
     }},
    {"mark": {"type": "point", "filled": true, "stroke": "black", "strokeWidth": 1, "size": 42, "opacity": 1},
     "encoding": {
       "x": {"field": "s", "type": "quantitative", "axis": null},
       "y": {"field": "v", "type": "quantitative", "axis": null},
       "shape": {"field": "p", "scale": {"domain": ["Position-0","Position-1","Position-2"], "range": ["circle","square","triangle-up"]}, "legend": null},
       "fill": {"field": "p", "scale": {"domain": ["Position-0","Position-1","Position-2"], "range": ["white","black","white"]}, "legend": null}
     }},
    {"transform": [{"filter": "datum.s > 99"}],
     "mark": {"type": "point", "filled": true, "strokeWidth": 1, "size": 144, "opacity": 1},
     "encoding": {
       "x": {"field": "s", "type": "quantitative", "axis": null},
       "y": {"field": "v", "type": "quantitative", "axis": null},
       "shape": {"field": "p", "scale": {"domain": ["Position-0","Position-1","Position-2"], "range": ["M-3,0H-0.5M0.5,0H3M-0.5,0A0.5,0.5,0,1,1,0.5,0A0.5,0.5,0,1,1,-0.5,0Z", "M-3,0H-0.45M0.45,0H3M-0.45,-0.45H0.45V0.45H-0.45Z", "M-3,0H-0.3M0.3,0H3M0,-0.55L0.55,0.45H-0.55Z"]}, "legend": {}},
       "fill": {"field": "p", "scale": {"domain": ["Position-0","Position-1","Position-2"], "range": ["white","black","white"]}, "legend": {}},
       "stroke": {"field": "p", "scale": {"domain": ["Position-0","Position-1","Position-2"], "range": ["black","black","black"]}, "legend": {}}
     }},
    {"mark": {"type": "point", "opacity": 0},
     "encoding": {
       "x": {"field": "s", "type": "quantitative",
             "axis": {"orient": "top", "title": null, "labels": false, "grid": false, "values": [-1.2,-1.0,-0.8,-0.6,-0.4,-0.2,0,0.2,0.4,0.6,0.8,1.0,1.2,1.4,1.6],
                      "tickSize": {"condition": {"test": "round(datum.value*10) % 4 == 0", "value": -5}, "value": -3}}},
       "y": {"field": "v", "type": "quantitative",
             "axis": {"orient": "right", "title": null, "labels": false, "grid": false, "values": [0,250,500,750,1000,1250,1500,1750,2000,2250,2500],
                      "tickSize": {"condition": {"test": "datum.value % 500 == 0", "value": -5}, "value": -3}}}
     }}
  ]
},
{
  "width": 419, "height": 248,
  "data": {"name": "bot"},
  "resolve": {"scale": {"shape": "independent", "fill": "independent", "stroke": "independent"}, "axis": {"x": "independent", "y": "independent"}},
  "layer": [
    {"transform": [{"filter": "datum.p != 'Position-0'"}],
     "mark": {"type": "line", "color": "black", "strokeWidth": 1},
     "encoding": {
       "x": {"field": "s", "type": "quantitative", "scale": {"domain": [-1.2, 1.6], "nice": false, "zero": false},
             "axis": {"title": "s / Cₓ", "titleFontSize": 16, "titlePadding": 1, "values": [-1.2,-1.0,-0.8,-0.6,-0.4,-0.2,0,0.2,0.4,0.6,0.8,1.0,1.2,1.4,1.6],
                      "labelExpr": "round(datum.value*10) % 4 == 0 ? format(datum.value, '.1f') : ''",
                      "tickSize": {"condition": {"test": "round(datum.value*10) % 4 == 0", "value": -5}, "value": -3},
                      "grid": true, "gridDash": [1, 2], "gridColor": "#333", "gridWidth": 1,
                      "gridOpacity": {"condition": {"test": "round(datum.value*10) % 4 == 0", "value": 1}, "value": 0},
                      "labelPadding": 13}},
       "y": {"field": "v", "type": "quantitative", "scale": {"domain": [0, 2500], "nice": false},
             "axis": {"title": "Shᴄ", "titleFontSize": 18, "titlePadding": 14, "values": [0,250,500,750,1000,1250,1500,1750,2000,2250,2500],
                      "labelExpr": "datum.value % 500 == 0 ? format(datum.value, 'd') : ''",
                      "tickSize": {"condition": {"test": "datum.value % 500 == 0", "value": -5}, "value": -3},
                      "grid": true, "gridDash": [1, 2], "gridColor": "#333", "gridWidth": 1,
                      "gridOpacity": {"condition": {"test": "datum.value % 500 == 0", "value": 1}, "value": 0},
                      "labelPadding": 9}},
       "detail": {"field": "p"}
     }},
    {"transform": [{"filter": "datum.p == 'Position-0'"}],
     "mark": {"type": "line", "color": "black", "strokeWidth": 2.5},
     "encoding": {
       "x": {"field": "s", "type": "quantitative", "axis": null},
       "y": {"field": "v", "type": "quantitative", "axis": null}
     }},
    {"transform": [{"filter": "datum.p != 'Position-0'"}],
     "mark": {"type": "point", "filled": true, "stroke": "black", "strokeWidth": 1, "size": 42, "opacity": 1},
     "encoding": {
       "x": {"field": "s", "type": "quantitative", "axis": null},
       "y": {"field": "v", "type": "quantitative", "axis": null},
       "shape": {"field": "p", "scale": {"domain": ["Position-3","Position-4","Position-5"], "range": ["circle","square","triangle-up"]}, "legend": null},
       "fill": {"field": "p", "scale": {"domain": ["Position-3","Position-4","Position-5"], "range": ["white","black","white"]}, "legend": null}
     }},
    {"transform": [{"filter": "datum.s > 99"}],
     "mark": {"type": "point", "filled": true, "strokeWidth": 1, "size": 144, "opacity": 1},
     "encoding": {
       "x": {"field": "s", "type": "quantitative", "axis": null},
       "y": {"field": "v", "type": "quantitative", "axis": null},
       "shape": {"field": "p", "scale": {"domain": ["Position-0","Position-3","Position-4","Position-5"], "range": ["M-3,-0.12H3V0.12H-3Z", "M-3,0H-0.5M0.5,0H3M-0.5,0A0.5,0.5,0,1,1,0.5,0A0.5,0.5,0,1,1,-0.5,0Z", "M-3,0H-0.45M0.45,0H3M-0.45,-0.45H0.45V0.45H-0.45Z", "M-3,0H-0.3M0.3,0H3M0,-0.55L0.55,0.45H-0.55Z"]}, "legend": {}},
       "fill": {"field": "p", "scale": {"domain": ["Position-0","Position-3","Position-4","Position-5"], "range": ["black","white","black","white"]}, "legend": {}},
       "stroke": {"field": "p", "scale": {"domain": ["Position-0","Position-3","Position-4","Position-5"], "range": ["black","black","black","black"]}, "legend": {}}
     }},
    {"mark": {"type": "point", "opacity": 0},
     "encoding": {
       "x": {"field": "s", "type": "quantitative",
             "axis": {"orient": "top", "title": null, "labels": false, "grid": false, "values": [-1.2,-1.0,-0.8,-0.6,-0.4,-0.2,0,0.2,0.4,0.6,0.8,1.0,1.2,1.4,1.6],
                      "tickSize": {"condition": {"test": "round(datum.value*10) % 4 == 0", "value": -5}, "value": -3}}},
       "y": {"field": "v", "type": "quantitative",
             "axis": {"orient": "right", "title": null, "labels": false, "grid": false, "values": [0,250,500,750,1000,1250,1500,1750,2000,2250,2500],
                      "tickSize": {"condition": {"test": "datum.value % 500 == 0", "value": -5}, "value": -3}}}
     }}
  ]
}
]
}
